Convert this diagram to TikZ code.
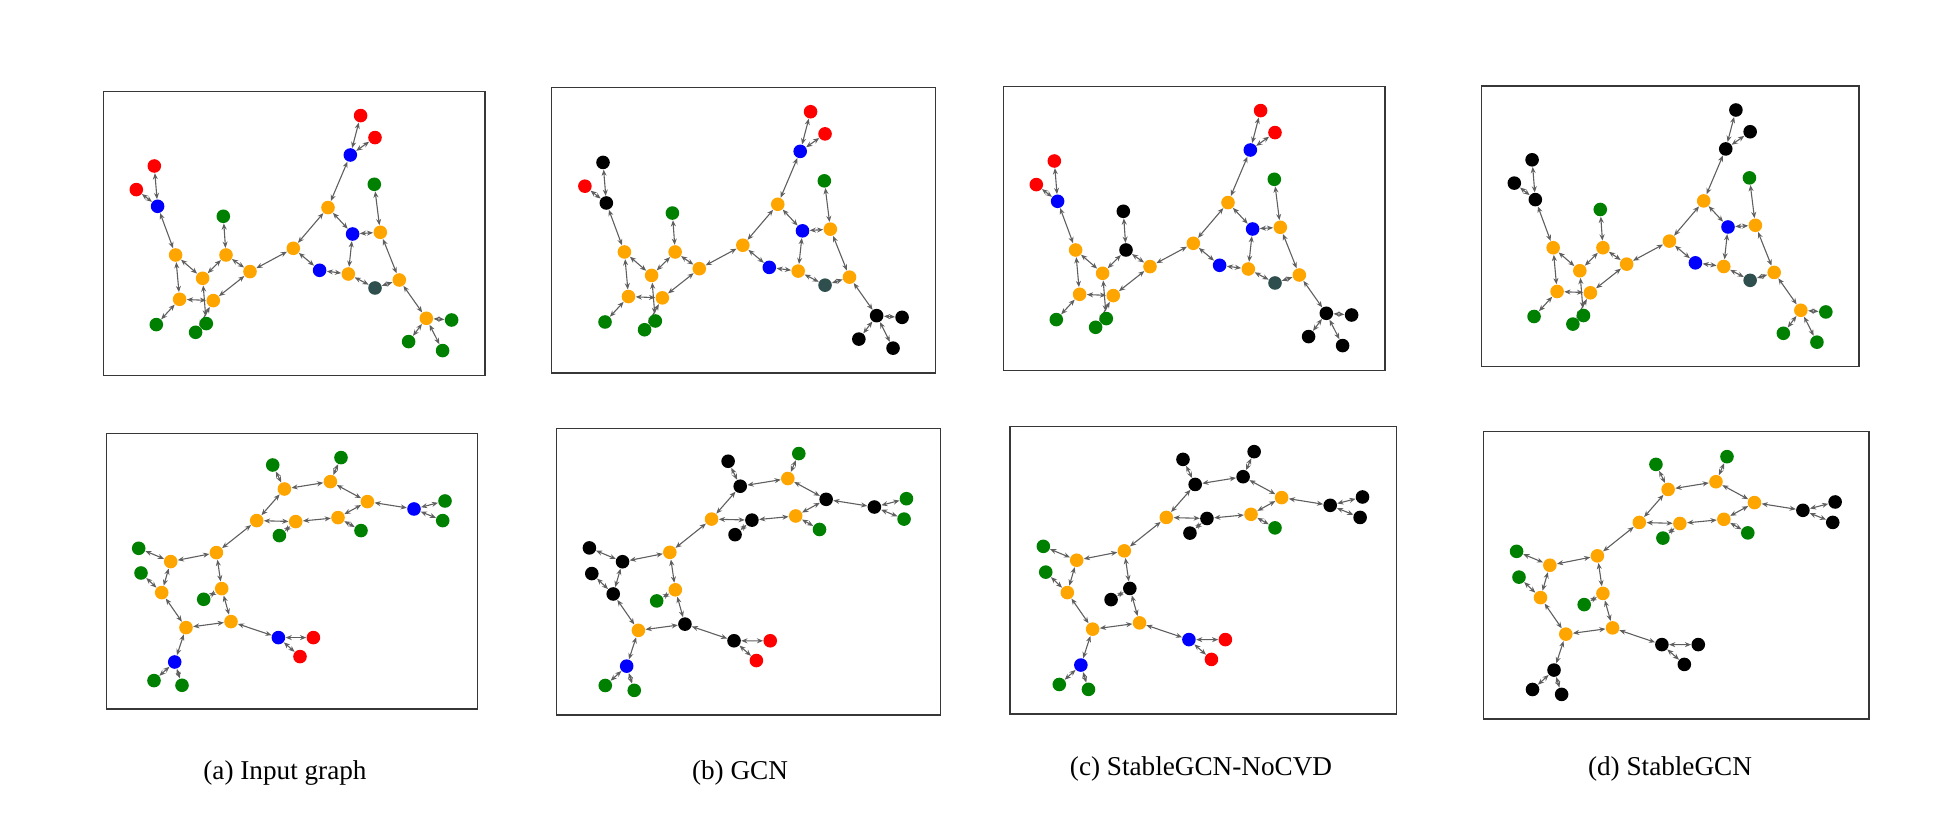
\documentclass[tikz,border=0pt]{standalone}
\usepackage{fontspec}
\setmainfont{Liberation Serif}
\usetikzlibrary{arrows.meta}
\pgfdeclarelayer{edgelayer}
\pgfsetlayers{edgelayer,main}
\definecolor{cOr}{RGB}{255,165,0}
\definecolor{cGr}{RGB}{0,128,0}
\definecolor{cBl}{RGB}{0,0,255}
\definecolor{cRd}{RGB}{255,0,0}
\definecolor{cSl}{RGB}{47,79,79}
\definecolor{cEd}{RGB}{95,95,95}
\definecolor{cFr}{RGB}{55,55,55}
\tikzset{
  nd/.style={circle,inner sep=0pt,minimum size=6.8pt,draw=none},
  ed/.style={draw=cEd,line width=0.55pt,{Stealth[length=3.1pt,width=2.5pt]}-{Stealth[length=3.1pt,width=2.5pt]}},
  frm/.style={draw=cFr,line width=0.7pt},
  captxt/.style={font=\fontsize{13.6}{16}\selectfont,anchor=base,inner sep=0pt},
  fO/.style={fill=cOr}, fG/.style={fill=cGr}, fB/.style={fill=cBl},
  fR/.style={fill=cRd}, fK/.style={fill=black}, fS/.style={fill=cSl},
  tR1/.style=fR, tR2/.style=fR, tR3/.style=fR, tR4/.style=fR,
  tB1/.style=fB, tB2/.style=fB, tB3/.style=fB, tB4/.style=fB,
  tD1/.style=fS,
  tO1/.style=fO, tO2/.style=fO, tO3/.style=fO, tO4/.style=fO, tO5/.style=fO, tO6/.style=fO,
  tO7/.style=fO, tO8/.style=fO, tO9/.style=fO, tO10/.style=fO, tO11/.style=fO, tO12/.style=fO,
  tG1/.style=fG, tG2/.style=fG, tG3/.style=fG, tG4/.style=fG, tG5/.style=fG, tG6/.style=fG,
  tG7/.style=fG, tG8/.style=fG,
  uGa/.style=fG, uGb/.style=fG, uGc/.style=fG, uGd/.style=fG, uGe/.style=fG, uGf/.style=fG,
  uGg/.style=fG, uGh/.style=fG, uGi/.style=fG, uGj/.style=fG, uGk/.style=fG,
  uOa/.style=fO, uOb/.style=fO, uOc/.style=fO, uOd/.style=fO, uOe/.style=fO, uOf/.style=fO,
  uOg/.style=fO, uOh/.style=fO, uOi/.style=fO, uOj/.style=fO, uOk/.style=fO, uOl/.style=fO,
  uBa/.style=fB, uBb/.style=fB, uBc/.style=fB, uRa/.style=fR, uRb/.style=fR
}
\newcommand{\GN}[3]{\node[nd,#1#2] (\pfx#2) at (#3) {};}
\newcommand{\TopGraph}[1]{%
  \def\pfx{#1}%
  \GN{t}{R1}{51.0,74.7}
  \GN{t}{R2}{33.0,98.3}
  \GN{t}{B1}{54.3,115.0}
  \GN{t}{O1}{72.3,163.7}
  \GN{t}{G1}{120.0,125.0}
  \GN{t}{O2}{122.7,163.7}
  \GN{t}{O3}{99.3,187.0}
  \GN{t}{O4}{146.7,180.3}
  \GN{t}{O5}{76.3,208.0}
  \GN{t}{O6}{110.0,209.3}
  \GN{t}{G2}{53.0,233.3}
  \GN{t}{G4}{92.3,241.0}
  \GN{t}{G3}{103.0,232.3}
  \GN{t}{O7}{190.0,157.0}
  \GN{t}{O8}{224.7,116.3}
  \GN{t}{B2}{216.3,179.0}
  \GN{t}{B3}{249.3,142.7}
  \GN{t}{O9}{245.0,182.7}
  \GN{t}{D1}{271.7,196.7}
  \GN{t}{O10}{277.0,141.0}
  \GN{t}{G5}{271.0,93.0}
  \GN{t}{O11}{296.0,188.7}
  \GN{t}{O12}{323.0,227.0}
  \GN{t}{G6}{348.3,228.7}
  \GN{t}{G7}{305.3,250.3}
  \GN{t}{G8}{339.3,259.3}
  \GN{t}{B4}{247.0,63.7}
  \GN{t}{R3}{257.3,24.3}
  \GN{t}{R4}{271.7,46.3}
  \begin{pgfonlayer}{edgelayer}
  \foreach \a/\b in {R1/B1,R2/B1,B1/O1,O1/O3,O1/O5,O3/O2,O2/G1,O2/O4,O4/O6,O5/O6,O5/G2,O3/G3,O6/G4,
    O4/O7,O7/O8,O7/B2,O8/B3,O8/B4,B4/R3,B4/R4,B3/O10,B3/O9,B2/O9,O9/D1,D1/O11,O10/O11,O10/G5,
    O11/O12,O12/G6,O12/G7,O12/G8}{\draw[ed] (\pfx\a) -- (\pfx\b);}
  \end{pgfonlayer}
}
\newcommand{\BotGraph}[1]{%
  \def\pfx{#1}%
  \GN{u}{Ga}{166,31.7}
  \GN{u}{Oa}{177.7,55.7}
  \GN{u}{Ob}{223.7,48.3}
  \GN{u}{Gb}{234.3,24.3}
  \GN{u}{Oc}{260.7,68.3}
  \GN{u}{Ba}{307.3,75.7}
  \GN{u}{Gc}{338.3,67.7}
  \GN{u}{Gd}{336,87.3}
  \GN{u}{Od}{231.3,84.3}
  \GN{u}{Ge}{254.3,97.3}
  \GN{u}{Gf}{172.7,102.3}
  \GN{u}{Oe}{189,88.3}
  \GN{u}{Of}{150,87.3}
  \GN{u}{Og}{109.7,119.3}
  \GN{u}{Oh}{64,128.3}
  \GN{u}{Gg}{32,115}
  \GN{u}{Gh}{34.3,139.7}
  \GN{u}{Oi}{55,159.3}
  \GN{u}{Oj}{115,155.3}
  \GN{u}{Gi}{97,166}
  \GN{u}{Ok}{79.3,194.3}
  \GN{u}{Ol}{124.3,188.3}
  \GN{u}{Bb}{171.7,204.3}
  \GN{u}{Ra}{206.7,204.3}
  \GN{u}{Rb}{193.3,223.3}
  \GN{u}{Bc}{68,228.7}
  \GN{u}{Gj}{47.3,247.3}
  \GN{u}{Gk}{75.3,252}
  \begin{pgfonlayer}{edgelayer}
  \foreach \a/\b in {Ga/Oa,Oa/Ob,Ob/Gb,Ob/Oc,Oc/Ba,Ba/Gc,Ba/Gd,Oc/Od,Od/Ge,Od/Oe,Oe/Gf,Oe/Of,Of/Oa,
    Of/Og,Og/Oh,Oh/Gg,Oh/Oi,Oi/Gh,Og/Oj,Oj/Gi,Oj/Ol,Oi/Ok,Ok/Ol,Ol/Bb,Bb/Ra,Bb/Rb,Ok/Bc,Bc/Gj,Bc/Gk}
    {\draw[ed] (\pfx\a) -- (\pfx\b);}
  \end{pgfonlayer}
}
\begin{document}
\begin{tikzpicture}[x=0.5pt,y=-0.5pt]
\useasboundingbox (0,0) rectangle (1960,838);
% ---------- top row ----------
\begin{scope}[shift={(103.3,91.3)}]
  \draw[frm] (0,0) rectangle (381.7,284);
  \TopGraph{ta}
\end{scope}
\begin{scope}[shift={(551.7,87.3)},scale=1.006,
  tR1/.style=fK, tB1/.style=fK, tO12/.style=fK, tG6/.style=fK, tG7/.style=fK, tG8/.style=fK]
  \draw[frm] (0,0) rectangle (381.7,284);
  \TopGraph{tb}
\end{scope}
\begin{scope}[shift={(1003.3,86.3)},
  tG1/.style=fK, tO2/.style=fK, tO12/.style=fK, tG6/.style=fK, tG7/.style=fK, tG8/.style=fK]
  \draw[frm] (0,0) rectangle (381.7,284);
  \TopGraph{tc}
\end{scope}
\begin{scope}[shift={(1481.7,86)},scale=0.988,
  tR1/.style=fK, tR2/.style=fK, tB1/.style=fK, tB4/.style=fK, tR3/.style=fK, tR4/.style=fK]
  \draw[frm] (0,0) rectangle (381.7,284);
  \TopGraph{td}
\end{scope}
% ---------- bottom row ----------
\begin{scope}[shift={(106.7,433.3)}]
  \draw[frm] (0,0) rectangle (371,275.7);
  \BotGraph{ba}
\end{scope}
\begin{scope}[shift={(556.3,428.3)},xscale=1.035,yscale=1.040,
  uGa/.style=fK, uOa/.style=fK, uOc/.style=fK, uBa/.style=fK, uOe/.style=fK, uGf/.style=fK,
  uOh/.style=fK, uGg/.style=fK, uGh/.style=fK, uOi/.style=fK, uOl/.style=fK, uBb/.style=fK]
  \draw[frm] (0,0) rectangle (371,275.7);
  \BotGraph{bb}
\end{scope}
\begin{scope}[shift={(1010,426.3)},xscale=1.042,yscale=1.044,
  uGa/.style=fK, uOa/.style=fK, uOb/.style=fK, uGb/.style=fK, uBa/.style=fK, uGc/.style=fK,
  uGd/.style=fK, uOe/.style=fK, uGf/.style=fK, uOj/.style=fK, uGi/.style=fK]
  \draw[frm] (0,0) rectangle (371,275.7);
  \BotGraph{bc}
\end{scope}
\begin{scope}[shift={(1483.3,431.3)},xscale=1.040,yscale=1.044,
  uBa/.style=fK, uGc/.style=fK, uGd/.style=fK, uBb/.style=fK, uRa/.style=fK, uRb/.style=fK,
  uBc/.style=fK, uGj/.style=fK, uGk/.style=fK]
  \draw[frm] (0,0) rectangle (371,275.7);
  \BotGraph{bd}
\end{scope}
% ---------- captions ----------
\node[captxt] (capa) at (285,779.5) {(a) Input graph};
\node[captxt] (capb) at (740,779.5) {(b) GCN};
\node[captxt] (capc) at (1201,775.5) {(c) StableGCN-NoCVD};
\node[captxt] (capd) at (1670,775.5) {(d) StableGCN};
\end{tikzpicture}
\end{document}
